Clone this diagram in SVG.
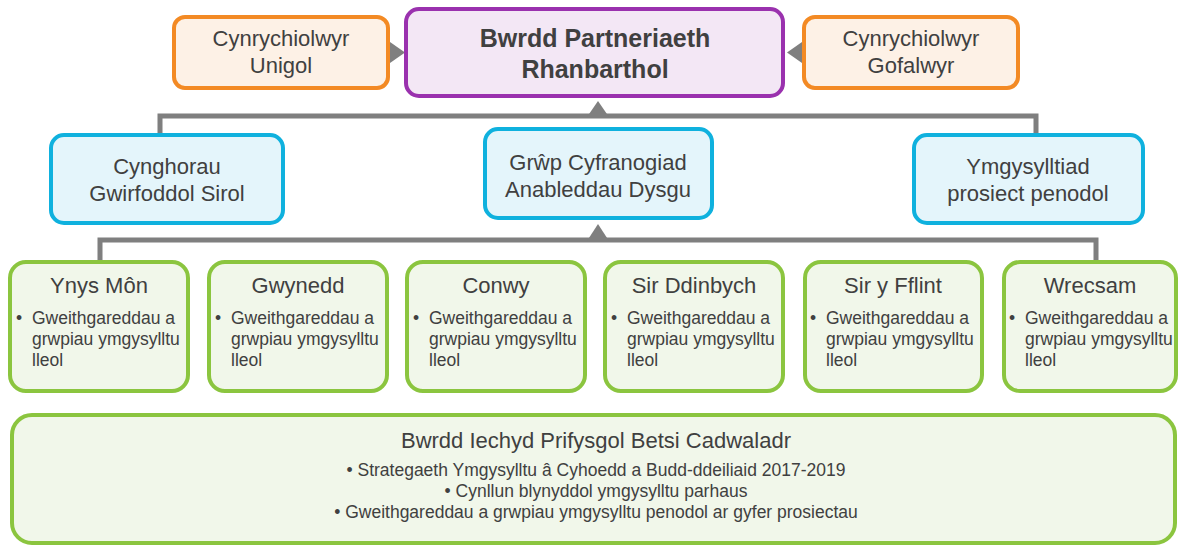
<svg xmlns="http://www.w3.org/2000/svg" width="1178" height="546" viewBox="0 0 1178 546">
<style>
text{font-family:"Liberation Sans",Arial,sans-serif;fill:#404040}
.t{font-size:22px;text-anchor:middle}
.b{font-size:25px;font-weight:bold;text-anchor:middle}
.s{font-size:17.5px}
.m{font-size:17.5px;text-anchor:middle}
.or{fill:#FDF1E6;stroke:#F38A24;stroke-width:4}
.pu{fill:#F3E7F5;stroke:#9A31AE;stroke-width:4}
.bl{fill:#E4F5FB;stroke:#0FB1DE;stroke-width:4}
.gr{fill:#F1F7EA;stroke:#8BC53F;stroke-width:4}
.ln{fill:none;stroke:#7F7F7F;stroke-width:5}
.ah{fill:#7F7F7F}
</style>
<g id="connectors">
<path class="ln" d="M160,135 V116 H1036 V135"/>
<path class="ln" d="M100,261 V240 H1096 V261"/>
<polygon class="ah" points="587,117 609,117 598,101"/>
<polygon class="ah" points="587,241 609,241 598,224"/>
<polygon class="ah" points="390,42 390,63 405,52.5"/>
<polygon class="ah" points="802,42 802,63 787,52.5"/>
</g>
<g id="node-unigol">
<rect class="or" x="174" y="17" width="214" height="71" rx="11"/>
<text class="t" x="281" y="46">Cynrychiolwyr</text>
<text class="t" x="281" y="73">Unigol</text>
</g>
<g id="node-bwrdd">
<rect class="pu" x="406" y="9" width="377" height="87" rx="13"/>
<text class="b" x="595" y="47">Bwrdd Partneriaeth</text>
<text class="b" x="595" y="78">Rhanbarthol</text>
</g>
<g id="node-gofalwyr">
<rect class="or" x="804" y="17" width="214" height="71" rx="11"/>
<text class="t" x="911" y="46">Cynrychiolwyr</text>
<text class="t" x="911" y="73">Gofalwyr</text>
</g>
<g id="node-cynghorau">
<rect class="bl" x="51" y="135" width="232" height="88" rx="13"/>
<text class="t" x="167" y="174">Cynghorau</text>
<text class="t" x="167" y="201">Gwirfoddol Sirol</text>
</g>
<g id="node-grwp">
<rect class="bl" x="485" y="129" width="227" height="89" rx="13"/>
<text class="t" x="598" y="170">Grŵp Cyfranogiad</text>
<text class="t" x="598" y="197">Anableddau Dysgu</text>
</g>
<g id="node-ymgysylltiad">
<rect class="bl" x="914" y="135" width="229" height="88" rx="13"/>
<text class="t" x="1028" y="174">Ymgysylltiad</text>
<text class="t" x="1028" y="201">prosiect penodol</text>
</g>
<g id="node-ynysmon">
<rect class="gr" x="10" y="262" width="178" height="129" rx="16"/>
<text class="t" x="99" y="293">Ynys Môn</text>
<text class="s" x="16" y="324">•</text>
<text class="s" x="32" y="324">Gweithgareddau a</text>
<text class="s" x="32" y="345">grwpiau ymgysylltu</text>
<text class="s" x="32" y="366">lleol</text>
</g>
<g id="node-gwynedd">
<rect class="gr" x="209" y="262" width="178" height="129" rx="16"/>
<text class="t" x="298" y="293">Gwynedd</text>
<text class="s" x="215" y="324">•</text>
<text class="s" x="231" y="324">Gweithgareddau a</text>
<text class="s" x="231" y="345">grwpiau ymgysylltu</text>
<text class="s" x="231" y="366">lleol</text>
</g>
<g id="node-conwy">
<rect class="gr" x="407" y="262" width="178" height="129" rx="16"/>
<text class="t" x="496" y="293">Conwy</text>
<text class="s" x="413" y="324">•</text>
<text class="s" x="429" y="324">Gweithgareddau a</text>
<text class="s" x="429" y="345">grwpiau ymgysylltu</text>
<text class="s" x="429" y="366">lleol</text>
</g>
<g id="node-sirddinbych">
<rect class="gr" x="605" y="262" width="178" height="129" rx="16"/>
<text class="t" x="694" y="293">Sir Ddinbych</text>
<text class="s" x="611" y="324">•</text>
<text class="s" x="627" y="324">Gweithgareddau a</text>
<text class="s" x="627" y="345">grwpiau ymgysylltu</text>
<text class="s" x="627" y="366">lleol</text>
</g>
<g id="node-sirfflint">
<rect class="gr" x="805" y="262" width="177" height="129" rx="16"/>
<text class="t" x="893" y="293">Sir y Fflint</text>
<text class="s" x="810" y="324">•</text>
<text class="s" x="826" y="324">Gweithgareddau a</text>
<text class="s" x="826" y="345">grwpiau ymgysylltu</text>
<text class="s" x="826" y="366">lleol</text>
</g>
<g id="node-wrecsam">
<rect class="gr" x="1004" y="262" width="172" height="129" rx="16"/>
<text class="t" x="1090" y="293">Wrecsam</text>
<text class="s" x="1009" y="324">•</text>
<text class="s" x="1025" y="324">Gweithgareddau a</text>
<text class="s" x="1025" y="345">grwpiau ymgysylltu</text>
<text class="s" x="1025" y="366">lleol</text>
</g>
<g id="node-betsi">
<rect class="gr" x="12" y="415" width="1163" height="128" rx="20"/>
<text class="t" x="596" y="448">Bwrdd Iechyd Prifysgol Betsi Cadwaladr</text>
<text class="m" x="596" y="476">• Strategaeth Ymgysylltu â Cyhoedd a Budd-ddeiliaid 2017-2019</text>
<text class="m" x="596" y="497">• Cynllun blynyddol ymgysylltu parhaus</text>
<text class="m" x="596" y="518">• Gweithgareddau a grwpiau ymgysylltu penodol ar gyfer prosiectau</text>
</g>
</svg>
